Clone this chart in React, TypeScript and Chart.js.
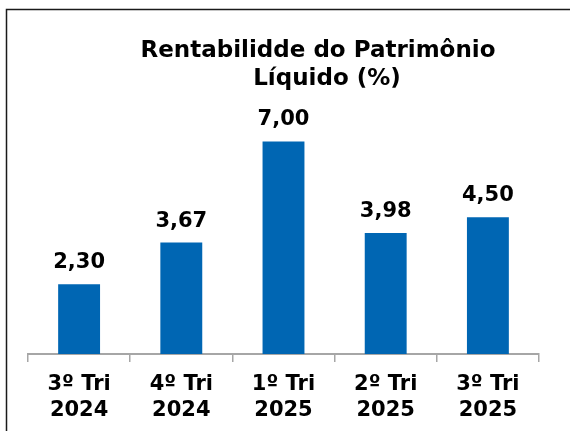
import React, { useEffect, useRef } from "react";
import { Chart, registerables } from "chart.js";

Chart.register(...registerables);

const titleLines = ["Rentabilidde do Patrimônio", "Líquido (%)"];
const categories = [
  ["3º Tri", "2024"],
  ["4º Tri", "2024"],
  ["1º Tri", "2025"],
  ["2º Tri", "2025"],
  ["3º Tri", "2025"],
];
const values = [2.3, 3.67, 7.0, 3.98, 4.5];

const FONT = "'DejaVu Sans', Verdana, sans-serif";

const framePlugin = {
  id: "frame",
  beforeDraw(chart: any) {
    const ctx = chart.ctx;
    ctx.save();
    ctx.fillStyle = "#ffffff";
    ctx.fillRect(0, 0, chart.width, chart.height);
    ctx.strokeStyle = "#1a1a1a";
    ctx.lineWidth = 1.5;
    ctx.beginPath();
    ctx.moveTo(6.5, chart.height);
    ctx.lineTo(6.5, 9.5);
    ctx.lineTo(chart.width, 9.5);
    ctx.stroke();
    ctx.restore();
  },
};

const titlePlugin = {
  id: "customTitle",
  afterDraw(chart: any) {
    const ctx = chart.ctx;
    ctx.save();
    ctx.fillStyle = "#000000";
    ctx.font = `bold 23px ${FONT}`;
    ctx.textAlign = "center";
    ctx.textBaseline = "alphabetic";
    ctx.fillText(titleLines[0], 318, 57);
    ctx.fillText(titleLines[1], 327, 85);
    ctx.restore();
  },
};

const labelPlugin = {
  id: "valueLabels",
  afterDatasetsDraw(chart: any) {
    const ctx = chart.ctx;
    const meta = chart.getDatasetMeta(0);
    ctx.save();
    ctx.fillStyle = "#000000";
    ctx.font = `bold 21px ${FONT}`;
    ctx.textAlign = "center";
    ctx.textBaseline = "alphabetic";
    meta.data.forEach((bar: any, i: number) => {
      const txt = values[i].toFixed(2).replace(".", ",");
      ctx.fillText(txt, bar.x, bar.y - 16);
    });
    ctx.restore();
  },
};

export default function App() {
  const ref = useRef<HTMLCanvasElement | null>(null);

  useEffect(() => {
    if (!ref.current) return;
    const chart = new Chart(ref.current, {
      type: "bar",
      data: {
        labels: categories,
        datasets: [
          {
            data: values,
            backgroundColor: "#0066B3",
            borderWidth: 0,
            barPercentage: 0.41,
            categoryPercentage: 1.0,
          },
        ],
      },
      options: {
        responsive: false,
        animation: false,
        layout: {
          padding: { left: 28, right: 31, top: 111, bottom: 2 },
        },
        plugins: {
          legend: { display: false },
          title: { display: false },
          tooltip: { enabled: false },
        },
        scales: {
          x: {
            afterFit: (scale: any) => {
              scale.height = 75;
            },
            grid: {
              display: true,
              offset: true,
              drawOnChartArea: false,
              drawTicks: true,
              tickLength: 8,
              color: "#a6a6a6",
              lineWidth: 1.5,
            },
            border: { display: true, color: "#a6a6a6", width: 2 },
            ticks: {
              color: "#000000",
              font: { family: FONT, size: 21, weight: "bold", lineHeight: 1.25 },
              padding: 9,
              maxRotation: 0,
              autoSkip: false,
            },
          },
          y: {
            display: false,
            min: 0,
            max: 8,
          },
        },
      },
      plugins: [framePlugin, titlePlugin, labelPlugin],
    });
    return () => chart.destroy();
  }, []);

  return (
    <canvas
      ref={ref}
      width={570}
      height={431}
      style={{ position: "absolute", left: 0, top: 0, width: 570, height: 431 }}
    />
  );
}
